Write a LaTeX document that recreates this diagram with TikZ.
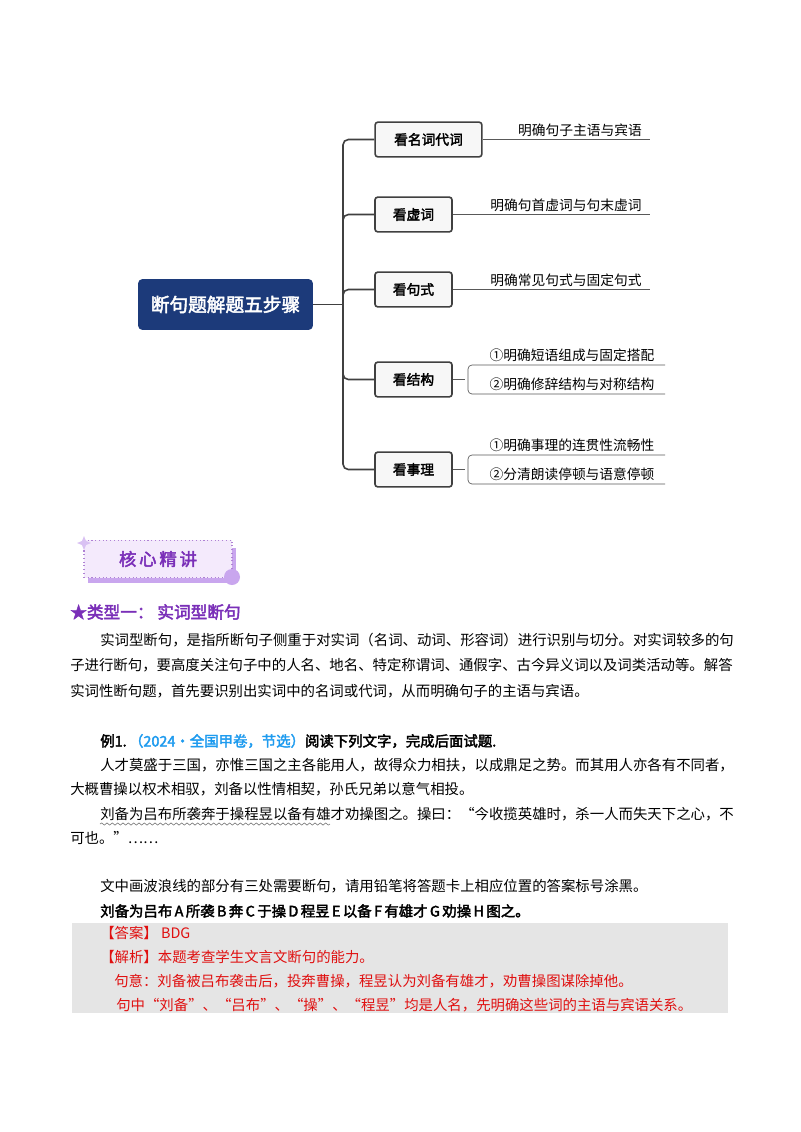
\documentclass[tikz,border=0pt]{standalone}
\usepackage{fontspec}
\setmainfont{Noto Sans CJK SC}[AutoFakeBold=2.5]
\usetikzlibrary{decorations.pathmorphing,shapes.geometric}
\definecolor{navy}{HTML}{1C3A7A}
\definecolor{purp}{HTML}{7A2FB8}
\definecolor{lpurp}{HTML}{F4EAFC}
\definecolor{mpurp}{HTML}{C9A6EE}
\definecolor{ablue}{HTML}{1E9BEF}
\definecolor{ared}{HTML}{E01010}
\definecolor{lnk}{HTML}{404040}
\tikzset{
  br/.style={draw=lnk, line width=1.2pt, rounded corners=2pt, fill=gray!6, minimum height=26pt, inner sep=0pt, font=\fontsize{10.3}{12}\selectfont\bfseries},
  leaf/.style={anchor=south, inner sep=1pt, font=\fontsize{10.3}{12}\selectfont},
  conn/.style={draw=lnk, line width=1.2pt, rounded corners=4pt},
  leafline/.style={draw=gray!70!black, line width=0.5pt, rounded corners=3pt},
  body/.style={anchor=west, inner sep=0pt, font=\fontsize{10.8}{13}\selectfont},
}
\begin{document}
\begin{tikzpicture}[x=0.75pt,y=-0.75pt]
\useasboundingbox[fill=white] (0,0) rectangle (800,1132);
% mind map
\node[fill=navy, rounded corners=3pt, minimum width=131pt, minimum height=38pt, text=white, font=\fontsize{14}{16}\selectfont\bfseries] (c) at (225.5,304.5) {断句题解题五步骤};
\coordinate (t) at (343,304.5);
\node[br, minimum width=80pt] (b1) at (428.5,139.5) {看名词代词};
\node[br, minimum width=57.75pt] (b2) at (413.5,214.5) {看虚词};
\node[br, minimum width=57.75pt] (b3) at (413.5,289.5) {看句式};
\node[br, minimum width=57.75pt] (b4) at (413.5,379.5) {看结构};
\node[br, minimum width=57.75pt] (b5) at (413.5,469.5) {看事理};
\draw[conn] (c.east) -- (t);
\foreach \b in {b1,b2,b3,b4,b5} \draw[conn] (t) |- (\b.west);
\coordinate (e1) at (650,139.5);
\coordinate (e2) at (650,214.5);
\coordinate (e3) at (650,289.5);
\draw[leafline] (b1.east) -- (e1);
\draw[leafline] (b2.east) -- (e2);
\draw[leafline] (b3.east) -- (e3);
\node[leaf] (l1) at (580,138) {明确句子主语与宾语};
\node[leaf] (l2) at (566,213) {明确句首虚词与句末虚词};
\node[leaf] (l3) at (566,288) {明确常见句式与固定句式};
\coordinate (j4) at (465,379.5);
\coordinate (u4) at (665,365);
\coordinate (d4) at (665,394);
\draw[leafline] (b4.east) -- (j4);
\draw[leafline] (u4) -- (468,365) -- (468,394) -- (d4);
\node[leaf] (l4a) at (572,363.5) {①明确短语组成与固定搭配};
\node[leaf] (l4b) at (572,392.5) {②明确修辞结构与对称结构};
\coordinate (j5) at (465,469.5);
\coordinate (u5) at (665,455);
\coordinate (d5) at (665,484);
\draw[leafline] (b5.east) -- (j5);
\draw[leafline] (u5) -- (468,455) -- (468,484) -- (d5);
\node[leaf] (l5a) at (572,453.5) {①明确事理的连贯性流畅性};
\node[leaf] (l5b) at (572,482.5) {②分清朗读停顿与语意停顿};
% banner
\fill[mpurp] (88,548) rectangle (236,583);
\node[fill=lpurp, draw=purp!60, dotted, line width=0.8pt, minimum width=111pt, minimum height=28pt, text=purp, font=\fontsize{13}{15}\selectfont\bfseries] (ban) at (158,559) {核\,心\,精\,讲};
\fill[mpurp] (232,577) circle (8);
\fill[mpurp!70] (84,536) -- (86,541) -- (91,543) -- (86,545) -- (84,550) -- (82,545) -- (77,543) -- (82,541) -- cycle;
% heading
\node[body, text=purp, font=\fontsize{12.5}{15}\selectfont\bfseries] (h) at (70,612) {★类型一：\ 实词型断句};
\node[body] (p1) at (100,640) {实词型断句，是指所断句子侧重于对实词（名词、动词、形容词）进行识别与切分。对实词较多的句};
\node[body] (p2) at (70,665.5) {子进行断句，要高度关注句子中的人名、地名、特定称谓词、通假字、古今异义词以及词类活动等。解答};
\node[body] (p3) at (70,691) {实词性断句题，首先要识别出实词中的名词或代词，从而明确句子的主语与宾语。};
% example
\node[body, font=\fontsize{10.8}{13}\selectfont\bfseries] (ex) at (100,741) {例1.\,\textcolor{ablue}{（2024·全国甲卷，节选）}阅读下列文字，完成后面试题.};
\node[body] (q1) at (100,765) {人才莫盛于三国，亦惟三国之主各能用人，故得众力相扶，以成鼎足之势。而其用人亦各有不同者，};
\node[body] (q2) at (70,789.5) {大概曹操以权术相驭，刘备以性情相契，孙氏兄弟以意气相投。};
\node[body] (q3) at (100,814) {刘备为吕布所袭奔于操程昱以备有雄才劝操图之。操曰：“今收揽英雄时，杀一人而失天下之心，不};
\draw[gray, line width=0.5pt, decorate, decoration={snake, amplitude=0.8pt, segment length=4pt}] (100,824) -- (330,824);
\node[body] (q4) at (70,838) {可也。”……};
\node[body] (q5) at (100,886) {文中画波浪线的部分有三处需要断句，请用铅笔将答题卡上相应位置的答案标号涂黑。};
\node[body, font=\fontsize{10.8}{13}\selectfont\bfseries] (q6) at (100,911) {刘备为吕布\,A\,所袭\,B\,奔\,C\,于操\,D\,程昱\,E\,以备\,F\,有雄才\,G\,劝操\,H\,图之。};
% answer box
\fill[gray!20] (72,923) rectangle (728,1013);
\node[body, text=ared] (a1) at (100,933) {【答案】 BDG};
\node[body, text=ared] (a2) at (100,957) {【解析】本题考查学生文言文断句的能力。};
\node[body, text=ared] (a3) at (114,981) {句意：刘备被吕布袭击后，投奔曹操，程昱认为刘备有雄才，劝曹操图谋除掉他。};
\node[body, text=ared] (a4) at (116,1005) {句中“刘备”、“吕布”、“操”、“程昱”均是人名，先明确这些词的主语与宾语关系。};
\end{tikzpicture}
\end{document}
